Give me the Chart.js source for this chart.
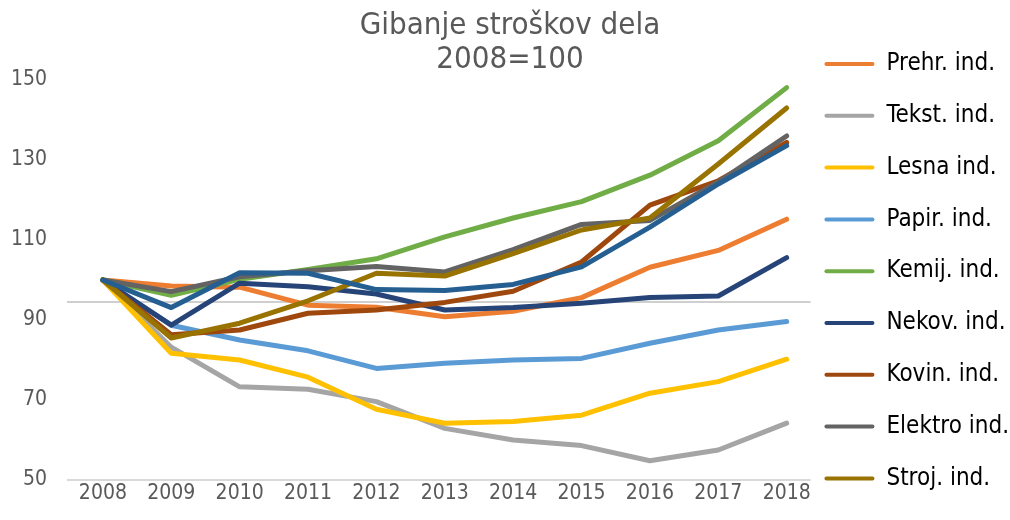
<!DOCTYPE html>
<html>
<head>
<meta charset="utf-8">
<script src="https://cdn.jsdelivr.net/npm/chart.js@4.4.1/dist/chart.umd.min.js"></script>
<style>
  body { margin: 0; background: #fff; }
  #wrap { width: 1010px; height: 520px; }
</style>
</head>
<body>
<div id="wrap"><canvas id="chart" width="1010" height="520"></canvas></div>
<script>
// Podatki (2008 = 100)
let years = ['2008', '2009', '2010', '2011', '2012', '2013', '2014', '2015', '2016', '2017', '2018'];
let prehr = [100, 98.5, 98.2, 93.7, 93.2, 90.8, 92.2, 95.6, 103.2, 107.4, 115.2];
let tekst = [100, 83.2, 73.3, 72.7, 69.6, 62.9, 60.0, 58.6, 54.8, 57.5, 64.2];
let lesna = [100, 81.7, 80.0, 75.7, 67.7, 64.2, 64.6, 66.2, 71.7, 74.6, 80.2];
let papir = [100, 88.7, 85.0, 82.3, 77.9, 79.2, 80.0, 80.4, 84.2, 87.5, 89.6];
let kemij = [100, 96.2, 100.2, 102.6, 105.3, 110.8, 115.5, 119.6, 126.2, 134.8, 148.1];
let nekov = [100, 88.7, 99.2, 98.3, 96.5, 92.5, 93.1, 94.2, 95.6, 96.0, 105.6];
let kovin = [100, 86.3, 87.5, 91.7, 92.5, 94.4, 97.2, 104.5, 118.7, 124.8, 134.4];
let elektro = [100, 97.1, 100.8, 102.3, 103.4, 102.0, 107.6, 113.9, 114.9, 124.5, 136.0];
let stroj = [100, 85.5, 89.2, 94.8, 101.7, 101.0, 106.6, 112.5, 115.5, 129.0, 143.0];
// deseta serija, ki v legendi ni prikazana (legenda je odrezana)
let ostalo = [100, 93.1, 101.8, 101.7, 97.6, 97.4, 98.9, 103.3, 113.2, 124.0, 133.6];

let yTicks = [50, 70, 90, 110, 130, 150];
let axisCross = 94.5;
let titleLines = ['Gibanje stroškov dela', '2008=100'];

let series = [
    { label: 'Prehr. ind.', data: prehr, color: '#ED7D31' },
    { label: 'Tekst. ind.', data: tekst, color: '#A5A5A5' },
    { label: 'Lesna ind.', data: lesna, color: '#FFC000' },
    { label: 'Papir. ind.', data: papir, color: '#5B9BD5' },
    { label: 'Kemij. ind.', data: kemij, color: '#70AD47' },
    { label: 'Nekov. ind.', data: nekov, color: '#264478' },
    { label: 'Kovin. ind.', data: kovin, color: '#9E480E' },
    { label: 'Elektro ind.', data: elektro, color: '#636363' },
    { label: 'Stroj. ind.', data: stroj, color: '#997300' },
    { label: 'Ostalo', data: ostalo, color: '#255E91', hideLegend: true }
];

const FONT = '"DejaVu Sans Condensed", "DejaVu Sans", sans-serif';
const TEXT = '#595959';
let firstYear = Number(years[0]);
let lastYear = Number(years[years.length - 1]);

// naslov in vodoravni črti (os pri 94,5 in spodnja črta)
const extras = {
    id: 'extras',
    beforeDatasetsDraw(chart) {
        const ctx = chart.ctx;
        const x = chart.scales.x;
        const y = chart.scales.y;
        const left = chart.chartArea.left;
        const right = x.getPixelForValue(lastYear + 0.35);
        ctx.save();
        ctx.lineWidth = 2;
        ctx.strokeStyle = '#D9D9D9';
        ctx.beginPath();
        ctx.moveTo(left, y.getPixelForValue(yTicks[0]));
        ctx.lineTo(right, y.getPixelForValue(yTicks[0]));
        ctx.stroke();
        ctx.strokeStyle = '#BFBFBF';
        ctx.lineWidth = 1.5;
        ctx.beginPath();
        ctx.moveTo(left, y.getPixelForValue(axisCross));
        ctx.lineTo(right, y.getPixelForValue(axisCross));
        ctx.stroke();
        ctx.restore();
    },
    afterDraw(chart) {
        const ctx = chart.ctx;
        ctx.save();
        ctx.fillStyle = TEXT;
        ctx.font = '31px ' + FONT;
        ctx.textAlign = 'center';
        ctx.textBaseline = 'middle';
        ctx.fillText(titleLines[0], chart.width / 2 + 5, 26);
        ctx.fillText(titleLines[1], chart.width / 2 + 5, 60);
        ctx.restore();
    }
};

let ctx = document.getElementById('chart').getContext('2d');
let chart = new Chart(ctx, {
    type: 'line',
    data: {
        datasets: series.map((s, i) => ({
            label: s.label,
            data: s.data.map((v, j) => ({ x: Number(years[j]), y: v })),
            borderColor: s.color,
            backgroundColor: s.color,
            borderWidth: 5,
            pointRadius: 0,
            tension: 0,
            order: series.length - i,
            borderCapStyle: 'round',
            borderJoinStyle: 'round'
        }))
    },
    options: {
        responsive: false,
        animation: false,
        layout: { padding: { top: 24.2, left: 9, right: -9, bottom: 0 } },
        plugins: {
            title: { display: false },
            tooltip: { enabled: false },
            legend: {
                position: 'right',
                align: 'start',
                labels: {
                    boxWidth: 50,
                    boxHeight: 4,
                    padding: 27.8,
                    color: TEXT,
                    font: { family: FONT, size: 24 },
                    generateLabels(chart) {
                        return series.map((s, i) => ({
                            text: s.label,
                            fillStyle: s.color,
                            strokeStyle: s.color,
                            lineWidth: 0,
                            borderRadius: 2,
                            datasetIndex: i,
                            hidden: false
                        })).filter(item => !series[item.datasetIndex].hideLegend);
                    }
                }
            }
        },
        scales: {
            x: {
                type: 'linear',
                min: firstYear - 0.525,
                max: lastYear + 0.146,
                grid: { display: false, drawTicks: false },
                border: { display: false },
                afterBuildTicks: scale => { scale.ticks = years.map(v => ({ value: Number(v) })); },
                afterFit: scale => { scale.height = 40; },
                ticks: {
                    color: TEXT,
                    font: { family: FONT, size: 21 },
                    padding: 1,
                    maxRotation: 0,
                    callback: v => String(v)
                }
            },
            y: {
                min: yTicks[0],
                max: 161.85,
                grid: { display: false, drawTicks: false },
                border: { display: false },
                afterBuildTicks: scale => { scale.ticks = yTicks.map(v => ({ value: v })); },
                afterFit: scale => { scale.width = 58; },
                ticks: { color: TEXT, font: { family: FONT, size: 21 }, padding: 20 }
            }
        }
    },
    plugins: [extras]
});
</script>
</body>
</html>
